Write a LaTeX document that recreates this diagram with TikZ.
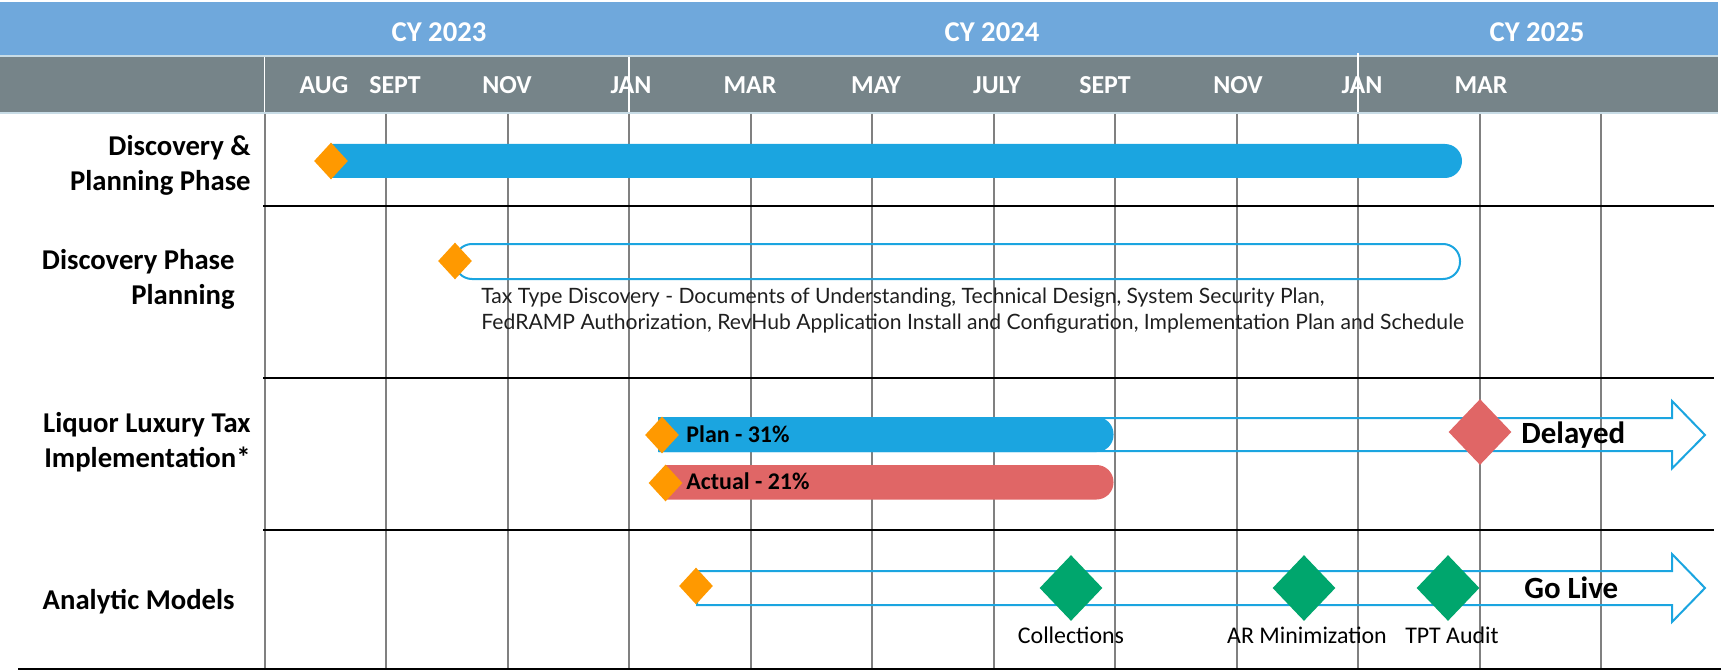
\documentclass[tikz,border=0pt]{standalone}
\usepackage{fontspec}
\setmainfont{Carlito}
\newfontfamily\descfont{Lato}
\usetikzlibrary{shapes.geometric}
\definecolor{hdrblue}{HTML}{6FA8DC}
\definecolor{hdrline}{HTML}{C8DCE6}
\definecolor{hdrgray}{HTML}{768489}
\definecolor{barblue}{HTML}{1BA5E0}
\definecolor{barred}{HTML}{E06666}
\definecolor{msorange}{HTML}{FF9900}
\definecolor{msgreen}{HTML}{00A66D}
\definecolor{gridgray}{HTML}{808080}

\begin{document}
\begin{tikzpicture}[x=0.5bp, y=-0.5bp,
    yearlbl/.style={text=white, inner sep=0pt, font=\bfseries\fontsize{14.4}{17}\selectfont},
    monthlbl/.style={text=white, inner sep=0pt, font=\bfseries\fontsize{13}{15}\selectfont},
    rowlbl/.style={anchor=east, align=right, inner sep=0pt, font=\bfseries\fontsize{14.4}{17.5}\selectfont},
    ms/.style={diamond, fill=msorange, inner sep=0pt, minimum width=17bp, minimum height=18.5bp},
    bigms/.style={diamond, inner sep=0pt, minimum width=31.5bp, minimum height=33bp},
    barlbl/.style={anchor=west, inner sep=0pt, font=\bfseries\fontsize{12}{14}\selectfont},
    goallbl/.style={anchor=west, inner sep=0pt, font=\bfseries\fontsize{15.5}{18}\selectfont},
    mslbl/.style={inner sep=0pt, font=\fontsize{12}{14}\selectfont},
    blockarrow/.style={draw=barblue, line width=1bp, line join=miter}]
    \useasboundingbox (0,0) rectangle (1721,671);

    % header
    \fill[hdrblue] (0,2) rectangle (1718,55);
    \fill[hdrline] (0,55) rectangle (1718,57);
    \fill[hdrgray] (0,57) rectangle (1718,112);
    \fill[hdrline] (0,112) rectangle (1718,114);
    \draw[white, line width=0.6bp] (264.5,57) -- (264.5,112) (629,57) -- (629,112) (1358,53) -- (1358,112);

    \node[yearlbl] (cy23) at (439,32) {CY 2023};
    \node[yearlbl] (cy24) at (992,32) {CY 2024};
    \node[yearlbl] (cy25) at (1537,32) {CY 2025};

    \node[monthlbl] (aug23) at (324,85) {AUG};
    \node[monthlbl] (sep23) at (395,85) {SEPT};
    \node[monthlbl] (nov23) at (507,85) {NOV};
    \node[monthlbl] (jan24) at (631,85) {JAN};
    \node[monthlbl] (mar24) at (750,85) {MAR};
    \node[monthlbl] (may24) at (876,85) {MAY};
    \node[monthlbl] (jul24) at (997,85) {JULY};
    \node[monthlbl] (sep24) at (1105,85) {SEPT};
    \node[monthlbl] (nov24) at (1238,85) {NOV};
    \node[monthlbl] (jan25) at (1362,85) {JAN};
    \node[monthlbl] (mar25) at (1481,85) {MAR};

    % grid
    \foreach \i in {0,...,11}
        \draw[gridgray, line width=1bp] ({264.5+121.5*\i},114) -- ({264.5+121.5*\i},669);
    \draw[line width=1.3bp] (263,206) -- (1714,206) (263,378) -- (1714,378) (263,530) -- (1714,530) (18,669) -- (1721,669);

    % row labels
    \node[rowlbl] (dpp) at (251,165) {Discovery \&\\Planning Phase};
    \node[rowlbl] (dppl) at (235,279) {Discovery Phase\\Planning};
    \node[rowlbl] (llt) at (251,442) {Liquor Luxury Tax\\Implementation*};
    \node[rowlbl] (am) at (235,602) {Analytic Models};

    % discovery & planning
    \fill[barblue, rounded corners=8.5bp] (331,144) -- (1462,144) -- (1462,178) [sharp corners] -- (331,178) -- cycle;
    \node[ms] (dpp start) at (331,161) {};

    % discovery phase planning
    \draw[barblue, line width=1bp, rounded corners=8.5bp] (455,244) rectangle (1460,279);
    \node[ms] (dppl start) at (455,261) {};
    \node[anchor=west, align=left, inner sep=0pt, text=black!88, font=\descfont\fontsize{10.6}{13}\selectfont] (dppl note) at (481,311)
        {Tax Type Discovery - Documents of Understanding, Technical Design, System Security Plan,\\
         FedRAMP Authorization, RevHub Application Install and Configuration, Implementation Plan and Schedule};

    % liquor luxury tax
    \draw[blockarrow] (659,418) -- (1672,418) -- (1672,401) -- (1705,435) -- (1672,468.5) -- (1672,451) -- (659,451) -- cycle;
    \fill[barblue] (659,452) -- (659,417) [rounded corners=8.5bp] -- (1113.5,417) -- (1113.5,452) [sharp corners] -- cycle;
    \fill[barred] (666,499.5) -- (666,465) [rounded corners=8.5bp] -- (1113.5,465) -- (1113.5,499.5) [sharp corners] -- cycle;
    \node[barlbl] (plan) at (686,434) {Plan - 31\%};
    \node[barlbl] (actual) at (686,481) {Actual - 21\%};
    \node[ms] (plan start) at (662,435) {};
    \node[ms] (actual start) at (665.5,483) {};
    \node[bigms, fill=barred] (delay ms) at (1480,432) {};
    \node[goallbl] (delayed) at (1521,435) {Delayed};

    % analytic models
    \draw[blockarrow] (697,571) -- (1672,571) -- (1672,554) -- (1705,588) -- (1672,622) -- (1672,605) -- (697,605) -- cycle;
    \node[ms] (am start) at (696,586) {};
    \node[bigms, fill=msgreen] (coll) at (1071,588) {};
    \node[bigms, fill=msgreen] (armin) at (1304,588) {};
    \node[bigms, fill=msgreen] (tpt) at (1448,588) {};
    \node[mslbl] (coll lbl) at (1071,635) {Collections};
    \node[mslbl] (armin lbl) at (1307,635) {AR Minimization};
    \node[mslbl] (tpt lbl) at (1452,635) {TPT Audit};
    \node[goallbl] (golive) at (1524,588) {Go Live};
\end{tikzpicture}
\end{document}
